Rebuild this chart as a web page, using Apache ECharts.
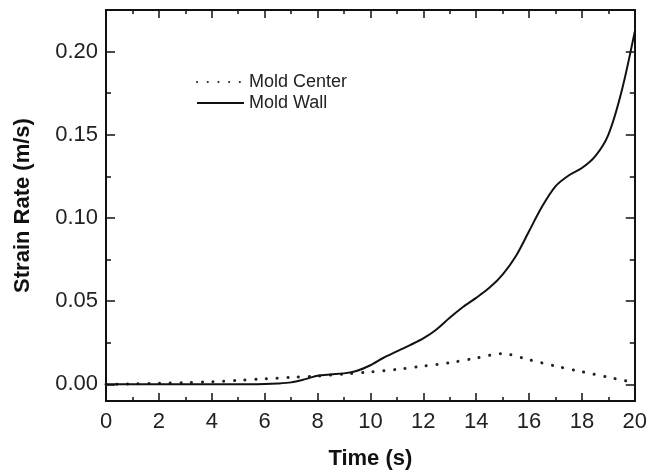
<!DOCTYPE html>
<html>
<head>
<meta charset="utf-8">
<script src="https://cdn.jsdelivr.net/npm/echarts@6/dist/echarts.min.js"></script>
<style>html,body{margin:0;padding:0;background:#fff;}#c{width:650px;height:475px;}</style>
</head>
<body>
<div id="c"></div>
<script>
// Data
var centerX = [0,1,2,3,4,5,6,7,8,9,10,11,12,13,14,15,16,17,18,19,20];
var centerY = [0,0.0003,0.0006,0.001,0.0016,0.0024,0.0033,0.0042,0.005,0.0062,0.0075,0.009,0.011,0.013,0.0158,0.0185,0.0148,0.011,0.0076,0.0043,0.001];
var wallX = [0,1,2,3,4,5,6,6.5,7,7.5,8,8.5,9,9.5,10,10.5,11,11.5,12,12.5,13,13.5,14,14.5,15,15.5,16,16.5,17,17.5,18,18.5,19,19.5,20];
var wallY = [0,0,0,0,0,0,0.0002,0.0005,0.0012,0.003,0.0052,0.006,0.0066,0.0082,0.0115,0.016,0.0198,0.0236,0.0276,0.033,0.040,0.0465,0.052,0.058,0.066,0.077,0.092,0.107,0.119,0.1255,0.130,0.137,0.150,0.176,0.212];
var yTicks = [0,0.05,0.10,0.15,0.20];
var yMinorTicks = [0.025,0.075,0.125,0.175];
var seriesNames = ['Mold Center','Mold Wall'];
var xTitle = 'Time (s)';
var yTitle = 'Strain Rate (m/s)';

function pairs(xs, ys){ return xs.map(function(x,i){return [x, ys[i]];}); }

var chart = echarts.init(document.getElementById('c'));
var font = 'Liberation Sans, Arial, sans-serif';
var lineC = '#111';
function xAx(pos, labels){
  return {
    type:'value', min:0, max:20, interval:2, position:pos,
    axisLine:{show:true, onZero:false, lineStyle:{color:lineC, width:2}},
    axisTick:{show:true, inside:true, length:8, lineStyle:{color:lineC, width:1.5}},
    minorTick:{show:true, splitNumber:2, length:4, lineStyle:{color:lineC, width:1.5}},
    axisLabel:{show:labels, margin:10, fontSize:22, color:'#222', fontFamily:font},
    splitLine:{show:false},
    name: labels ? xTitle : '', nameLocation:'middle', nameGap:47,
    nameTextStyle:{fontSize:22, fontWeight:'bold', color:'#111', fontFamily:font}
  };
}
function yAx(pos, vals, len, labels){
  return {
    type:'value', min:-0.01, max:0.225, position:pos,
    axisLine:{show:true, onZero:false, lineStyle:{color:lineC, width:2}},
    axisTick:{show:true, inside:true, length:len, customValues:vals, lineStyle:{color:lineC, width:1.5}},
    axisLabel:{show:labels, customValues:vals, margin:8, fontSize:22, color:'#222', fontFamily:font,
      formatter:function(v){return v.toFixed(2);}},
    splitLine:{show:false},
    name: labels ? yTitle : '', nameLocation:'middle', nameGap:72,
    nameTextStyle:{fontSize:22, fontWeight:'bold', color:'#111', fontFamily:font}
  };
}
chart.setOption({
  animation:false,
  backgroundColor:'#fff',
  grid:{left:106, top:10, right:14, bottom:74},
  legend:{
    orient:'vertical', left:191, top:68, itemWidth:47, itemHeight:14, itemGap:3,
    itemStyle:{opacity:0},
    textStyle:{fontSize:18, color:'#222', fontFamily:font},
    data:seriesNames
  },
  xAxis:[xAx('bottom', true), xAx('top', false)],
  yAxis:[yAx('left', yTicks, 9, true), yAx('left', yMinorTicks, 5, false),
         yAx('right', yTicks, 9, false), yAx('right', yMinorTicks, 5, false)],
  series:[
    {name:seriesNames[0], type:'line', xAxisIndex:0, yAxisIndex:0, data:pairs(centerX, centerY),
     symbol:'none', smooth:0.3, lineStyle:{color:'#222', width:3, type:[0.1,10.6], cap:'round'}, itemStyle:{color:'#222'}},
    {name:seriesNames[1], type:'line', xAxisIndex:0, yAxisIndex:0, data:pairs(wallX, wallY),
     symbol:'none', smooth:0.3, lineStyle:{color:'#111', width:2}, itemStyle:{color:'#111'}}
  ]
});
</script>
</body>
</html>
